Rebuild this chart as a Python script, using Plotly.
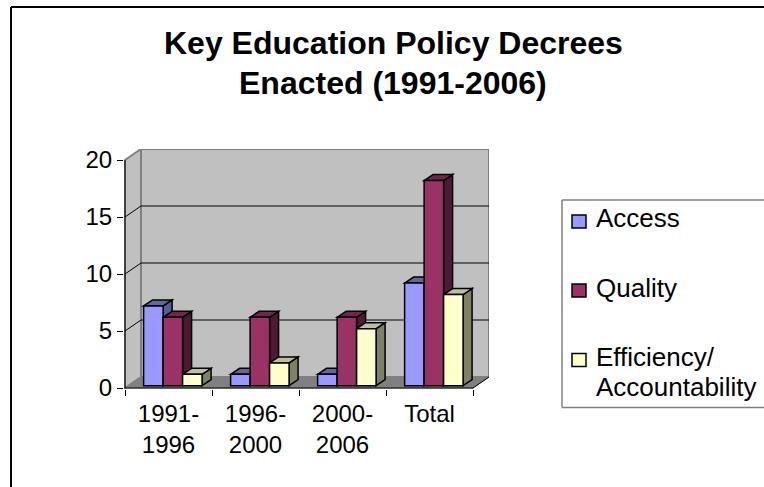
import plotly.graph_objects as go

title_lines = ["Key Education Policy Decrees", "Enacted (1991-2006)"]
categories = ["1991-<br>1996", "1996-<br>2000", "2000-<br>2006", "Total"]
series_names = ["Access", "Quality", "Efficiency/<br>Accountability"]
access = [7, 1, 1, 9]
quality = [6, 6, 6, 18]
efficiency = [1, 2, 5, 8]
y_ticks = [0, 5, 10, 15, 20]
front_colors = ["#9999FF", "#993366", "#FFFFCC"]
top_colors = ["#666699", "#73264D", "#BFBF99"]
side_colors = ["#5C5C99", "#4D1933", "#808066"]

W, H = 764, 487
PX_X = 87.0     # pixels per category
PX_Y = 11.4     # pixels per value unit
DEPTH_X, DEPTH_Y = 16 / PX_X, 11 / PX_Y
BAR_DX, BAR_DY = 9 / PX_X, 6 / PX_Y
BAR_W = 0.224
BAR_SHIFT = 0.05
BASE = 0.2
x0, x1 = -0.5, 3.5
xs = list(range(len(categories)))

def poly(pts, fill, line="black", lw=1.5):
    path = "M" + " L".join(f"{a},{b}" for a, b in pts) + " Z"
    return dict(type="path", path=path, xref="x", yref="y", layer="below",
                fillcolor=fill, line=dict(color=line, width=lw))

def seg(a, b, c, d, color="black", lw=1):
    return dict(type="line", x0=a, y0=b, x1=c, y1=d, xref="x", yref="y",
                layer="below", line=dict(color=color, width=lw))

def pline(a, b, c, d, color="black", lw=1):
    return dict(type="line", x0=a / W, y0=1 - b / H, x1=c / W, y1=1 - d / H,
                xref="paper", yref="paper", line=dict(color=color, width=lw))

shapes = []
top = y_ticks[-1]
shapes.append(poly([(x0, 0), (x0 + DEPTH_X, DEPTH_Y), (x1 + DEPTH_X, DEPTH_Y), (x1, 0)], "#808080", "#808080", 1))
shapes.append(poly([(x0, 0), (x0, top), (x0 + DEPTH_X, top + DEPTH_Y), (x0 + DEPTH_X, DEPTH_Y)], "#C0C0C0", "#808080", 2))
shapes.append(poly([(x0 + DEPTH_X, DEPTH_Y), (x0 + DEPTH_X, top + DEPTH_Y), (x1 + DEPTH_X, top + DEPTH_Y), (x1 + DEPTH_X, DEPTH_Y)], "#C0C0C0", "#808080", 2))
for v in y_ticks[1:-1]:
    shapes.append(seg(x0 + DEPTH_X, v + DEPTH_Y, x1 + DEPTH_X, v + DEPTH_Y))
    shapes.append(seg(x0, v, x0 + DEPTH_X, v + DEPTH_Y))
shapes.append(seg(x0, 0, x0 + DEPTH_X, DEPTH_Y, "#808080", 1))
shapes.append(seg(x0, 0, x1, 0))
shapes.append(seg(x0, 0, x0, top))
shapes.append(seg(x1, 0, x1 + DEPTH_X, DEPTH_Y))

all_series = [access, quality, efficiency]
bars = []
for s, vals in enumerate(all_series):
    off = (s - 1) * BAR_W + BAR_SHIFT
    for i, v in zip(xs, vals):
        xl = i + off - BAR_W / 2
        xr = i + off + BAR_W / 2
        yt = BASE + v
        shapes.append(poly([(xr, BASE), (xr + BAR_DX, BASE + BAR_DY), (xr + BAR_DX, yt + BAR_DY), (xr, yt)], side_colors[s]))
        shapes.append(poly([(xl, yt), (xl + BAR_DX, yt + BAR_DY), (xr + BAR_DX, yt + BAR_DY), (xr, yt)], top_colors[s]))
    bars.append(go.Bar(x=[i + off for i in xs], y=vals, base=BASE, width=BAR_W,
                       name=series_names[s].replace("<br>", " "),
                       marker=dict(color=front_colors[s], line=dict(color="black", width=1.5)),
                       showlegend=False))

fig = go.Figure(bars)

shapes.append(pline(11, 7, W, 7, "black", 2))
shapes.append(pline(11, 7, 11, H, "black", 2))
shapes.append(pline(562, 200, W, 200, "#808080", 1.5))
shapes.append(pline(562, 200, 562, 407.5, "#808080", 1.5))
shapes.append(pline(562, 407.5, W, 407.5, "#808080", 1.5))

annotations = []
swatch_y = [221.5, 290.5, 360]
text_y = [[218], [288], [357, 387]]
for s, name in enumerate(series_names):
    shapes.append(dict(type="rect", xref="paper", yref="paper",
                       x0=572 / W, x1=586 / W,
                       y0=1 - (swatch_y[s] - 6.5) / H, y1=1 - (swatch_y[s] + 6.5) / H,
                       fillcolor=front_colors[s], line=dict(color="black", width=1.5)))
    for part, yy in zip(name.split("<br>"), text_y[s]):
        annotations.append(dict(text=part, xref="paper", yref="paper", x=594 / W, y=1 - yy / H,
                                xanchor="left", yanchor="middle", align="left", showarrow=False,
                                font=dict(size=26, color="black")))
for line, yy in zip(title_lines, [43, 82.5]):
    annotations.append(dict(text=line, xref="paper", yref="paper", x=393 / W, y=1 - yy / H,
                            xanchor="center", yanchor="middle", showarrow=False,
                            font=dict(size=32, color="black", weight="bold")))

fig.update_layout(
    width=W, height=H, autosize=False,
    margin=dict(l=0, r=0, t=0, b=0, autoexpand=False),
    paper_bgcolor="white", plot_bgcolor="white",
    font=dict(family="Liberation Sans, Arial, sans-serif", color="black", size=24),
    barmode="overlay",
    showlegend=False,
    shapes=shapes,
    annotations=annotations,
    xaxis=dict(domain=[124 / W, (125 + 348 + 16) / W],
               range=[x0 - 1 / PX_X, x1 + DEPTH_X],
               tickvals=xs, ticktext=categories,
               ticks="outside", ticklen=3, tickcolor="rgba(0,0,0,0)",
               minor=dict(tickvals=[x0 + k for k in range(len(categories) + 1)], ticks="outside",
                          ticklen=6, tickcolor="black", tickwidth=1),
               showgrid=False, zeroline=False, showline=False,
               tickfont=dict(size=24)),
    yaxis=dict(domain=[1 - 389 / H, 1 - 149 / H],
               range=[-1 / PX_Y, top + DEPTH_Y],
               tickvals=y_ticks,
               ticks="outside", ticklen=6, tickcolor="black", tickwidth=1,
               showgrid=False, zeroline=False, showline=False,
               tickfont=dict(size=24)),
)

fig.write_html("out.html", config=dict(displayModeBar=False),
               post_script="document.body.style.margin='0';")
